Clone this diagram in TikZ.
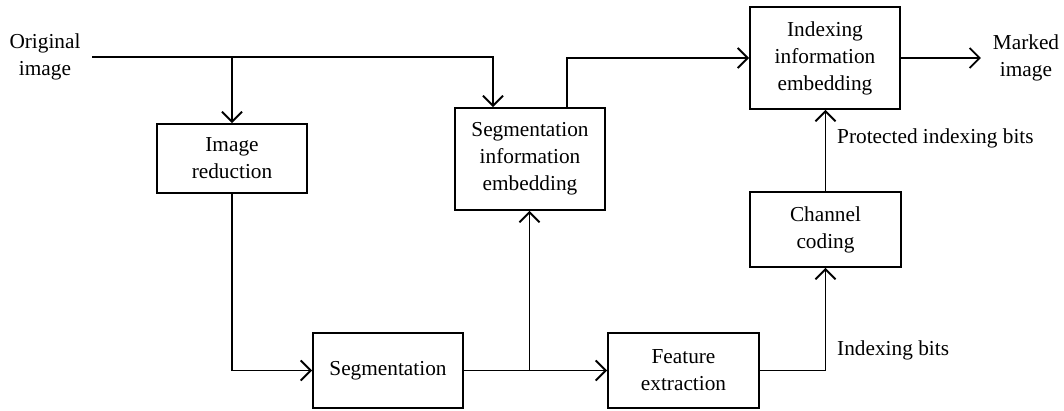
\documentclass[tikz,border=0pt]{standalone}
\usepackage{fontspec}
\setmainfont{Liberation Serif}
\usetikzlibrary{arrows.meta}
\begin{document}
\begin{tikzpicture}[x=1pt,y=-1pt,
  blk/.style={draw,line width=1.9pt,align=center,inner sep=0pt,font=\fontsize{21.3}{27}\selectfont},
  lbl/.style={align=center,inner sep=0pt,font=\fontsize{21.3}{27}\selectfont},
  conn/.style={line width=1.9pt},
  arr/.style={conn,-{Straight Barb[length=10pt,width=20pt,line width=1.9pt]}}]
\useasboundingbox (0,0) rectangle (1064,411);
\node[blk,minimum width=150,minimum height=69] (ir) at (232,158.5) {Image\\reduction};
\node[blk,minimum width=150,minimum height=75] (seg) at (388,370.5) {Segmentation};
\node[blk,minimum width=150,minimum height=102] (sie) at (530,159) {Segmentation\\information\\embedding};
\node[blk,minimum width=151,minimum height=75] (fe) at (683.5,370.5) {Feature\\extraction};
\node[blk,minimum width=151,minimum height=75] (cc) at (825.5,229.5) {Channel\\coding};
\node[blk,minimum width=150,minimum height=102] (iie) at (825,58) {Indexing\\information\\embedding};
\node[lbl] (orig) at (45,57) {Original\\image};
\node[lbl] (marked) at (1026,58) {Marked\\image};
\node[lbl,anchor=west] (ib) at (837,350) {Indexing bits};
\node[lbl,anchor=west] (pib) at (837,138) {Protected indexing bits};
\coordinate (start) at (92,57);
\coordinate (j1) at (232,57);
\coordinate (j2) at (529.5,370.5);
\draw[arr] (start) -| ([xshift=-37pt]sie.north);
\draw[arr] (j1) -- (ir.north);
\draw[arr] ([xshift=37pt]sie.north) |- (iie.west);
\draw[arr] (iie.east) -- ++(80,0);
\draw[arr] (ir.south) |- (seg.west);
\draw[arr] (seg.east) -- (fe.west);
\draw[arr] (j2) -- (j2 |- sie.south);
\draw[arr] (fe.east) -| (cc.south);
\draw[arr] (cc.north) -- (iie.south -| cc.north);
\end{tikzpicture}
\end{document}
